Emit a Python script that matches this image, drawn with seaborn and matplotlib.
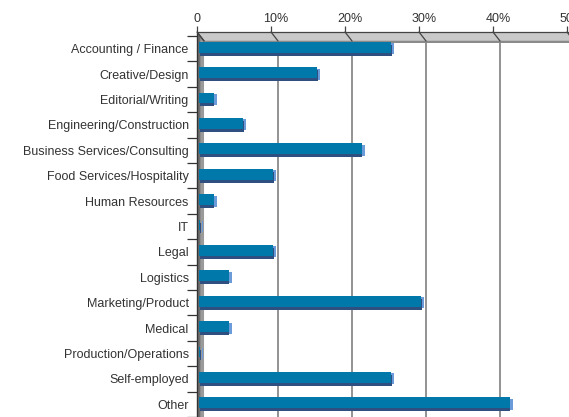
import numpy as np
import pandas as pd
import seaborn as sns
import matplotlib.pyplot as plt
import matplotlib.transforms as mtransforms
from matplotlib.patches import Polygon

# Dados
categorias = ['Accounting / Finance', 'Creative/Design', 'Editorial/Writing',
              'Engineering/Construction', 'Business Services/Consulting',
              'Food Services/Hospitality', 'Human Resources', 'IT', 'Legal',
              'Logistics', 'Marketing/Product', 'Medical',
              'Production/Operations', 'Self-employed', 'Other']
percentuais = [26, 16, 2, 6, 22, 10, 2, 0.2, 10, 4, 30, 4, 0.2, 26, 42]
ticks_x = [0, 10, 20, 30, 40, 50]
rotulos_x = ['0', '10%', '20%', '30%', '40%', '50%']

df = pd.DataFrame({'categoria': categorias, 'pct': percentuais})

sns.set_style('white')
plt.rcParams['font.family'] = ['Liberation Sans', 'DejaVu Sans']

fig = plt.figure(figsize=(5.69, 4.17), dpi=100)
topo_px = 32
ax = fig.add_axes([197 / 569, 0, 370 / 569, (417 - topo_px) / 417])
n = len(categorias)
prof = 0.95          # profundidade 3D em unidades de dados (~7 px)
faixa = 9 / (417 - topo_px)  # altura da faixa superior em fração do eixo


def desloca(dx, dy):
    return mtransforms.ScaledTranslation(dx / 100, dy / 100, fig.dpi_scale_trans)


# camadas das barras: lateral clara, base escura, frente
camadas = [('#6b9bd8', 3, -1.5), ('#2f4f80', 0.5, -3), ('#0079aa', 0, 0)]
for cor, dx, dy in camadas:
    ini = len(ax.patches)
    sns.barplot(data=df, x='pct', y='categoria', orient='h', color=cor,
                width=0.43, saturation=1, ax=ax, zorder=4)
    for p in ax.patches[ini:]:
        p.set_linewidth(0)
        p.set_transform(ax.transData + desloca(dx + 2, dy + 1.5))

ax.set_xlim(0, 50)
ax.set_ylim(n - 0.5, n - 0.5 - (417 - topo_px) / 25.4)

# grade vertical (parede do fundo)
for v in ticks_x[1:-1]:
    ax.axvline(v + prof, ymax=1 - faixa, color='#808080', lw=1.2, zorder=1)

# parede esquerda e piso superior (efeito 3D)
trans = mtransforms.blended_transform_factory(ax.transData, ax.transAxes)
ax.add_patch(Polygon([[0, 1], [prof, 1 - faixa], [prof, 0], [0, 0]], closed=True,
                     transform=trans, facecolor='#9a9a9a', edgecolor='none',
                     zorder=2, clip_on=False))
ax.add_patch(Polygon([[0, 1], [0.45, 1 - faixa / 2], [0.45, 0], [0, 0]], closed=True,
                     transform=trans, facecolor='#6e6e6e', edgecolor='none',
                     zorder=2, clip_on=False))
ax.plot([0, 0], [0, 1], transform=trans, color='#333333', lw=1, zorder=3,
        clip_on=False)
ax.add_patch(Polygon([[0, 1.0], [60, 1.0], [60, 1 - faixa], [prof, 1 - faixa]],
                     closed=True, transform=trans, facecolor='#c9c9c9',
                     edgecolor='#444444', lw=0.9, zorder=2, clip_on=False))
ax.add_patch(Polygon([[60, 1 - faixa], [prof, 1 - faixa], [prof, 1 - faixa - 0.006],
                      [60, 1 - faixa - 0.006]], closed=True, transform=trans,
                     facecolor='#8a8a8a', edgecolor='none', zorder=2, clip_on=False))
for v in ticks_x:
    ax.plot([v, v + prof], [1, 1 - faixa], transform=trans, color='#444444',
            lw=0.9, zorder=3, clip_on=False)

# eixo x no topo
ax.xaxis.tick_top()
ax.set_xticks(ticks_x)
ax.set_xticklabels(rotulos_x, fontsize=9, color='#333333')
ax.tick_params(axis='x', length=4, width=0.9, color='#444444', pad=1, top=True)
for lbl in ax.get_xticklabels()[1:]:
    lbl.set_transform(lbl.get_transform() + desloca(5, 0))

# eixo y
ax.set_yticks(range(n))
ax.set_yticklabels(categorias, fontsize=9, color='#333333')
ax.tick_params(axis='y', length=0, pad=6)
ax.set_yticks(np.arange(-0.5, n, 1), minor=True)
ax.tick_params(axis='y', which='minor', length=7, width=0.9, color='#333333', left=True)

ax.set_xlabel('')
ax.set_ylabel('')
for s in ax.spines.values():
    s.set_visible(False)

plt.savefig('out.png', dpi=100)
